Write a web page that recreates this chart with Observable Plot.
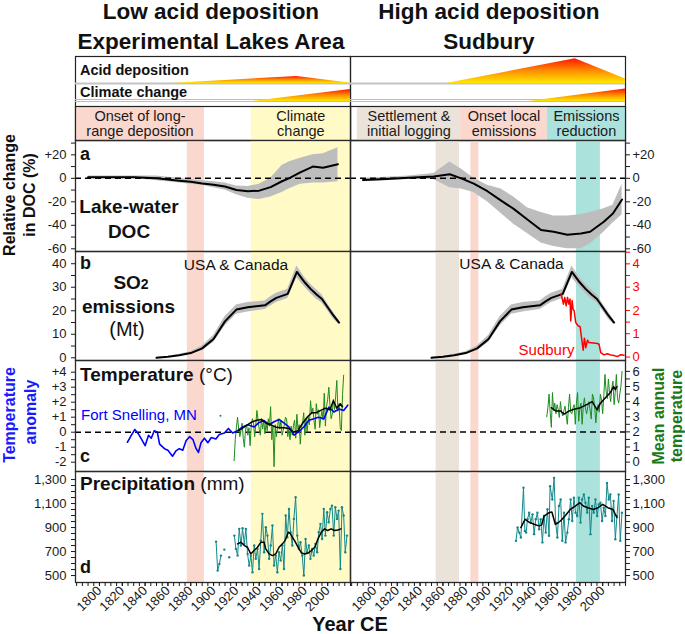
<!DOCTYPE html>
<html>
<head>
<meta charset="utf-8">
<script src="https://cdn.jsdelivr.net/npm/d3@7"></script>
<script src="https://cdn.jsdelivr.net/npm/@observablehq/plot@0.6"></script>
<style>
html,body{margin:0;padding:0;background:#fff;}
#root{position:relative;width:685px;height:634px;overflow:hidden;background:#fff;}
</style>
</head>
<body>
<div id="root"></div>
<script>
// ---------------- DATA ----------------
const xDomain = [1779, 2020];
const xTicks = [1800, 1820, 1840, 1860, 1880, 1900, 1920, 1940, 1960, 1980, 2000];
const xMinorTicks = d3.range(1780, 2021, 5);

// header schematic wedges (relative intensity)
const acidYearELA = [1863, 1973, 2019];
const acidLevelELA = [0, 0.26, 0.02];
const acidYearSud = [1863, 1976, 2020];
const acidLevelSud = [0, 0.92, 0.17];
const climYearELA = [1934, 2020];
const climLevelELA = [0, 0.67];
const climYearSud = [1935, 2020];
const climLevelSud = [0, 0.69];

// period labels in header
const phaseLabelELA = ["Onset of long-\nrange deposition", "Climate\nchange"];
const phaseStartELA = [1779, 1933];
const phaseEndELA = [1892, 2020];
const phaseKindELA = ["onset", "climate"];
const phaseLabelSud = ["Settlement &\ninitial logging", "Onset local\nemissions", "Emissions\nreduction"];
const phaseStartSud = [1785, 1875.5, 1951.5];
const phaseEndSud = [1875.5, 1951.5, 2020];
const phaseKindSud = ["settle", "onset", "reduce"];

// shaded periods in panels
const bandStartELA = [1877, 1933];
const bandEndELA = [1892, 2020];
const bandKindELA = ["onset", "climate"];
const bandStartSud = [1854, 1884.5, 1977];
const bandEndSud = [1874.5, 1891.5, 1998];
const bandKindSud = ["settle", "onset", "reduce"];

// a: relative change in DOC (%)
const docELAYear = [1790,1800,1810,1820,1830,1840,1850,1860,1870,1880,1890,1900,1910,1920,1930,1940,1950,1960,1966,1976,1987,1996,2009];
const docELAMean = [1,1,1,1,1,0.5,0,-1,-2,-3,-4.5,-5.5,-7,-10,-11,-10.5,-7.5,-2.5,0,5,10,9,12];
const docELAHi   = [2,2,2,2,2,2,2,1,0,-1,-2,-3,-4,-6.5,-7,-5,0,11,14,17,20,21,26];
const docELALo   = [0,0,0,0,0,-1,-2,-3,-4,-5,-6,-8,-10,-14,-17,-18,-16,-12,-9,-5,-4,-4,-3];

const docSudYear = [1790,1810,1830,1852,1866,1876,1887,1899,1911,1922,1934,1946,1957,1969,1981,1989,2001,2009,2017];
const docSudMean = [-1.5,-0.5,0.5,1.5,3.5,0,-4.5,-11,-19,-26,-35,-44,-45.5,-48,-47,-45.5,-37,-30,-18];
const docSudHi   = [0,1,2,4,14,8,0,-6,-9,-16,-25,-29,-32,-32,-31,-29,-26,-23,-5];
const docSudLo   = [-3,-2,-1,-1,-8,-9,-12,-20,-30,-39,-47,-55,-58,-60,-60,-56,-46,-38,-31];

// b: SO2 emissions USA & Canada (Mt)
const so2Year = [1850,1860,1870,1880,1890,1900,1910,1920,1930,1945,1950,1955,1965,1973,1980,1985,1990,1995,2000,2005,2010];
const so2Mean = [0,0.4,1.1,2,4,8,15.5,20.5,21.5,22.3,24,25.5,27.2,36.5,32,29.3,27,25,21.5,18,15];
const so2Lo   = [0,0.2,0.8,1.5,3,6.5,13.5,18.5,19.5,20.5,22,23.5,25.2,34,30,27.3,25,23.3,20,16.5,14];
const so2Hi   = [0.2,0.6,1.5,2.6,5,9.5,17.5,22.5,23.5,24.2,26,27.5,29.2,39,34,31.3,29,26.8,23,19.5,16];
// Sudbury SO2 (Mt)
const sudSO2Year = [1963.6,1965.6,1966.8,1968,1969.2,1970.3,1971.4,1972,1973.2,1974.1,1975,1976.4,1978.5,1980.2,1981.4,1982.9,1984,1985.2,1986.7,1988.1,1995.4,1996.8,1998.3,2001.2,2004.1,2007,2010,2012.9,2015.8,2018.7];
const sudSO2 = [2.7,2.27,2.56,2.2,2.56,2.27,2.49,1.55,2.42,2.06,1.99,1.48,1.34,1.3,0.86,0.29,0.81,0.4,0.72,0.62,0.58,0.55,0.19,0.09,0.14,0.09,0.06,0.02,0.1,0.08];

// c: temperature
const fsYear = [1824.5,1828,1831,1834,1836.7,1840,1843,1845.4,1848,1850.7,1852.7,1857,1860,1864,1867,1870,1873,1876,1879,1882,1884.7,1886.7,1889,1892,1895,1898,1902,1905,1909.5,1913,1916.7,1921,1925.5,1930,1935.6,1940,1944,1948.7,1953,1957.4,1961.8,1966,1970.5,1975,1979,1983.6,1988,1992,1996.7,2001,2005.4,2010,2014,2017.6];
const fsAnom = [-0.67,-0.2,0.18,-0.1,-0.45,-0.9,-0.2,-0.4,0.1,0,-0.8,-1.1,-1.2,-1.6,-1.25,-1.1,-1.2,-0.55,-0.3,-0.5,-1.1,-1.35,-0.7,-0.4,-0.7,-0.35,-0.45,-0.15,-0.05,0.25,-0.05,0.1,0.35,0.5,0.35,0.65,0.78,0.5,0.7,0.85,0.6,0.35,-0.2,0.05,0.35,0.8,0.9,1.0,0.9,1.67,1.35,1.55,1.45,1.8];

const elaTempYear = [1918,1919,1920,1921,1922,1923,1924,1925,1926,1927,1928,1929,1930,1931,1932,1933,1934,1935,1936,1937,1938,1939,1940,1941,1942,1943,1944,1945,1946,1947,1948,1949,1950,1951,1952,1953,1954,1955,1956,1957,1958,1959,1960,1961,1962,1963,1964,1965,1966,1967,1968,1969,1970,1971,1972,1973,1974,1975,1976,1977,1978,1979,1980,1981,1982,1983,1984,1985,1986,1987,1988,1989,1990,1991,1992,1993,1994,1995,1996,1997,1998,1999,2000,2001,2002,2003,2004,2005,2006,2007,2008,2009,2010,2011,2012,2013,2014];
const elaTemp = [-1.9,-0.5,0.3,1.0,0.2,-0.3,0.1,0.6,-0.4,-1.0,0.2,0.5,-0.2,0.3,-0.9,0.4,0.9,0.6,-0.3,0.5,1.45,0.8,0.2,-0.2,0.9,0.2,0.8,-0.1,0.6,0.1,0.9,0.4,1.7,-0.5,0.4,-2.3,0.5,-0.3,0.3,0.9,0.2,0.8,-0.2,0.1,0.5,1.0,0.9,-0.3,0.2,-0.5,0.4,-0.2,0.45,0.8,-0.4,1.2,0.2,0.5,-0.8,0.3,0.6,1.3,-0.2,0.9,0,1.0,0.5,2.1,1.2,1.6,0.8,0.2,1.9,1.2,1.5,0.3,1.0,1.4,0.8,2.6,0.4,1.7,2.2,3.0,1.8,0.9,1.2,2.2,1.5,2.4,3.45,1.4,1.9,0.3,0.1,2.5,3.8];
const elaTempDotYear = [1906];
const elaTempDot = [1.1];
const elaTempSmYear = [1922,1926,1930,1934,1938,1942,1946,1950,1954,1958,1962,1966,1970,1974,1978,1982,1986,1990,1994,1998,2002,2005,2008,2011,2013];
const elaTempSm = [0.1,0.3,0.5,0.7,0.8,0.85,0.6,0.5,0.35,0.3,0.3,0.25,0,0.1,0.6,1.0,1.3,1.3,1.45,1.6,1.5,2.1,1.6,1.9,1.7];

const sudTempYear = [1951,1952,1953,1954,1955,1956,1957,1958,1959,1960,1961,1962,1963,1964,1965,1966,1967,1968,1969,1970,1971,1972,1973,1974,1975,1976,1977,1978,1979,1980,1981,1982,1983,1984,1985,1986,1987,1988,1989,1990,1991,1992,1993,1994,1995,1996,1997,1998,1999,2000,2001,2002,2003,2004,2005,2006,2007,2008,2009,2010,2011,2012,2013,2014,2015,2016,2017];
const sudTemp = [3.0,3.6,4.5,3.3,2.3,4.6,3.4,3.9,3.2,3.8,3.5,2.95,4.0,3.3,3.05,3.4,3.7,3.1,2.5,3.6,4.5,3.3,3.2,3.6,3.8,2.5,3.9,4.6,2.7,3.6,3.9,2.5,3.7,4.25,3.5,3.2,3.7,4.0,3.4,2.85,4.5,4.25,3.6,2.6,3.5,3.8,3.3,4.5,4.1,3.2,4.4,5.8,4.7,4.2,5.5,4.6,4.0,4.9,5.35,3.8,4.6,5.8,4.2,3.9,4.5,5.0,6.0];
const sudTempSmYear = [1955,1958.8,1963.2,1966.1,1970.4,1974.8,1980.6,1986.4,1990.8,1995.1,1998,2003.8,2006.7,2009.6,2011.1,2012.5];
const sudTempSm = [3.6,3.38,3.38,3.17,3.38,3.49,3.6,3.82,4.0,3.45,3.9,4.37,4.59,5.0,4.8,5.0];

// d: precipitation (mm)
const elaPrecipYear = [1902.2,1903.6,1905.1,1906.5,1908,1909.4,1911,1913.7,1916,1918.2,1919.6,1921.1,1922.5,1924,1925.4,1926.9,1928.3,1929.8,1931.2,1932.7,1934.1,1935.6,1937,1938.5,1939.9,1941.4,1942.8,1944.3,1945.8,1947.2,1948.7,1950.1,1951.6,1953,1954.5,1955.9,1957.4,1958.8,1960.3,1961.7,1963.2,1964.6,1966.1,1967.5,1969,1970.4,1971.9,1973.3,1974.8,1976.2,1977.7,1979.1,1980.6,1982,1983.5,1984.9,1986.4,1987.8,1989.3,1990.8,1992.2,1993.7,1995.1,1996.6,1998,1999.5,2000.9,2002.4,2003.8,2005.3,2006.7,2008.2,2009.6,2011.1,2012.5,2014,2015.4,2016.9];
const elaPrecip = [783,541,597,666,NaN,716,NaN,652,NaN,833,722,666,889,750,894,764,889,680,583,666,527,750,639,722,555,791,1014,694,903,833,639,750,917,583,666,527,694,625,750,555,1000,819,1055,861,750,972,1153,833,722,778,666,500,805,694,750,639,722,666,764,694,861,930,805,1055,833,1028,944,1055,1083,833,1069,972,1041,555,1069,1000,694,833];
const elaPrecipSmYear = [1921,1924,1927,1929.7,1932.6,1935.5,1938.5,1941.4,1944.3,1945.7,1948.7,1951.6,1954.5,1957.4,1960.3,1962.6,1965.5,1967.5,1969,1971,1974,1977,1980,1983,1985.7,1988.7,1991.5,1994.4,1997.3,2000,2003,2006,2009,2011.6];
const elaPrecipSm = [764,777,750,736,680,708,736,777,777,722,680,666,680,736,764,791,861,847,819,791,736,688,680,688,708,736,805,861,889,875,889,875,880,889];

const sudPrecipYear = [1924,1925.4,1926.9,1928.3,1930.6,1931.8,1932.9,1934.1,1935.6,1937,1938.5,1939.9,1941.4,1942.8,1944.3,1945.7,1947.2,1948.6,1950.1,1951.6,1953,1953.9,1955.9,1957.4,1958.8,1960.3,1961.7,1963.2,1964.6,1966.1,1967.5,1969,1970.4,1971.9,1973.3,1974.8,1976.2,1977.7,1979.1,1980.6,1982,1983.5,1984.9,1986.4,1987.8,1989.3,1990.8,1992.2,1993.7,1995.1,1996.6,1998,1999.5,2000.9,2002.4,2003.8,2005.3,2006.7,2008.2,2009.6,2011.1,2012.5,2014,2015.4,2016.9];
const sudPrecip = [789,900,858,817,1231,872,858,969,1024,941,1010,845,969,1024,886,969,776,996,858,1052,831,1245,1134,1314,941,817,1079,1134,789,1024,776,858,969,1134,955,1148,1024,996,1148,941,1134,1176,1107,1024,1148,845,1079,1024,1134,996,1093,1107,955,1065,996,1272,1134,1176,955,1121,803,996,1176,789,1024];
const sudPrecipSmYear = [1928.3,1932,1936,1940,1944,1946.5,1948.6,1953,1955.5,1958.5,1961,1963,1967,1971.6,1976,1980,1983,1987,1991.7,1996,2000,2004.6,2009,2012.5];
const sudPrecipSm = [900,969,941,927,914,920,996,1024,1030,927,940,955,996,1051,1079,1107,1079,1065,1051,1065,1093,1065,1050,983];

// ---------------- STYLE ----------------
const FONT = '"Liberation Sans", Arial, Helvetica, sans-serif';
const COL = {onset: "#fbd8ce", climate: "#fffac6", settle: "#ebe3da", reduce: "#abe2dc"};
const BAND_GREY = "#bdbdbd";
const STYLE = {background: "transparent", overflow: "visible", fontFamily: FONT, fontSize: "13px", color: "#1a1a1a"};

const root = document.getElementById("root");

// gradient for header wedges
const gsvg = d3.select(root).append("svg").attr("width", 0).attr("height", 0).style("position", "absolute");
const grad = gsvg.append("defs").append("linearGradient").attr("id", "heat")
  .attr("x1", 0).attr("y1", 0).attr("x2", 0).attr("y2", 1);
grad.append("stop").attr("offset", "0%").attr("stop-color", "#ff1400");
grad.append("stop").attr("offset", "50%").attr("stop-color", "#ff8c00");
grad.append("stop").attr("offset", "100%").attr("stop-color", "#ffe800");

// ---------------- helpers ----------------
const zip = (keys, ...arrs) => arrs[0].map((_, i) => Object.fromEntries(keys.map((k, j) => [k, arrs[j][i]])));
const signed = d => d > 0 ? "+" + d : String(d);

function place(opts, left, top) {
  const svg = Plot.plot({style: STYLE, ...opts});
  svg.style.position = "absolute";
  svg.style.left = left + "px";
  svg.style.top = top + "px";
  svg.style.overflow = "visible";
  root.appendChild(svg);
  return svg;
}
const GEOM = {
  L: {left: 0, width: 350, marginLeft: 75, marginRight: 0},
  R: {left: 350, width: 335, marginLeft: 0, marginRight: 60}
};
function panel(side, top, height, y, marks, bottom = 0, xAxis = false) {
  const g = GEOM[side];
  return place({
    width: g.width, height: height + bottom,
    marginLeft: g.marginLeft, marginRight: g.marginRight, marginTop: 0, marginBottom: bottom,
    x: xAxis ? {domain: xDomain} : {domain: xDomain, axis: null},
    y, marks
  }, g.left, top);
}
function yAxes(anchor, major, minor, fmt, color) {
  const base = {anchor, tickSize: 4, label: null};
  if (color) base.color = color;
  return [
    Plot.axisY({...base, ticks: major, tickFormat: fmt, tickPadding: anchor === "left" ? 5 : 3}),
    Plot.axisY({...base, ticks: minor, tickFormat: () => ""})
  ];
}
const xAxes = () => [
  Plot.axisX({anchor: "bottom", ticks: xMinorTicks, tickSize: 4, tickFormat: () => "", label: null}),
  Plot.axisX({anchor: "bottom", ticks: xTicks, tickSize: 4, tickRotate: -45, tickPadding: 2, tickFormat: d => String(d), label: null})
];

const bandsELA = zip(["x1", "x2", "kind"], bandStartELA, bandEndELA, bandKindELA);
const bandsSud = zip(["x1", "x2", "kind"], bandStartSud, bandEndSud, bandKindSud);
const bandMarks = bands => bands.map(b => Plot.rect([b], {x1: "x1", x2: "x2", fill: COL[b.kind]}));
const frame = () => Plot.frame({stroke: "#2a2a2a", strokeWidth: 1.3});

// ---------------- HEADER ----------------
const rowX = {domain: xDomain, axis: null};
for (const side of ["L", "R"]) {
  const g = GEOM[side];
  place({width: g.width, height: 84, marginLeft: g.marginLeft, marginRight: g.marginRight, marginTop: 0, marginBottom: 0,
    x: rowX, marks: [Plot.frame({stroke: "#222", strokeWidth: 1.2})]}, g.left, 56);
}
const acidELA = zip(["year", "level"], acidYearELA, acidLevelELA);
const acidSud = zip(["year", "level"], acidYearSud, acidLevelSud);
const climELA = zip(["year", "level"], climYearELA, climLevelELA);
const climSud = zip(["year", "level"], climYearSud, climLevelSud);
[["L", acidELA, climELA], ["R", acidSud, climSud]].forEach(([side, acid, clim]) => {
  const g = GEOM[side];
  place({width: g.width, height: 27, marginLeft: g.marginLeft, marginRight: g.marginRight, marginTop: 0, marginBottom: 0,
    x: rowX, y: {domain: [0, 1], axis: null},
    marks: [
      Plot.ruleY([0], {stroke: "#c4c4c4", strokeWidth: 2}),
      Plot.areaY(acid, {x: "year", y: "level", fill: "url(#heat)"})
    ]}, g.left, 56);
  place({width: g.width, height: 18, marginLeft: g.marginLeft, marginRight: g.marginRight, marginTop: 0, marginBottom: 0,
    x: rowX, y: {domain: [0, 1], axis: null},
    marks: [
      Plot.ruleY([0], {stroke: "#bdbdbd", strokeWidth: 1.2}),
      Plot.ruleY([0], {stroke: "#bdbdbd", strokeWidth: 1.2, dy: -2}),
      Plot.areaY(clim, {x: "year", y: "level", fill: "url(#heat)"})
    ]}, g.left, 83);
});
const phasesELA = zip(["label", "x1", "x2", "kind"], phaseLabelELA, phaseStartELA, phaseEndELA, phaseKindELA);
const phasesSud = zip(["label", "x1", "x2", "kind"], phaseLabelSud, phaseStartSud, phaseEndSud, phaseKindSud);
[["L", phasesELA], ["R", phasesSud]].forEach(([side, phases]) => {
  const g = GEOM[side];
  place({width: g.width, height: 34, marginLeft: g.marginLeft, marginRight: g.marginRight, marginTop: 0, marginBottom: 0,
    x: rowX, y: {domain: [0, 1], axis: null},
    marks: [
      ...phases.map(p => Plot.rect([p], {x1: "x1", x2: "x2", fill: COL[p.kind]})),
      Plot.text(phases, {x: d => (d.x1 + d.x2) / 2, text: "label", frameAnchor: "middle", fontSize: 14.5, lineHeight: 1.06, fill: "#1a1a1a"}),
      Plot.frame({stroke: "#222", strokeWidth: 1.2})
    ]}, g.left, 106);
});

// ---------------- PANEL a ----------------
const docELA = zip(["year", "mean", "lo", "hi"], docELAYear, docELAMean, docELALo, docELAHi);
const docSud = zip(["year", "mean", "lo", "hi"], docSudYear, docSudMean, docSudLo, docSudHi);
const yA = {domain: [-62.3, 32.2]};
const docTicks = [-60, -40, -20, 0, 20], docMinor = [-50, -30, -10, 10, 30];
panel("L", 140, 111, yA, [
  ...bandMarks(bandsELA),
  Plot.area(docELA, {x1: "year", y1: "lo", y2: "hi", fill: BAND_GREY}),
  Plot.ruleY([0], {stroke: "#000", strokeWidth: 1.5, strokeDasharray: "6,4"}),
  Plot.line(docELA, {x: "year", y: "mean", stroke: "#000", strokeWidth: 2}),
  frame(),
  ...yAxes("left", docTicks, docMinor, signed)
]);
panel("R", 140, 111, yA, [
  ...bandMarks(bandsSud),
  Plot.area(docSud, {x1: "year", y1: "lo", y2: "hi", fill: BAND_GREY}),
  Plot.ruleY([0], {stroke: "#000", strokeWidth: 1.5, strokeDasharray: "6,4"}),
  Plot.line(docSud, {x: "year", y: "mean", stroke: "#000", strokeWidth: 2}),
  frame(),
  ...yAxes("right", docTicks, docMinor, signed)
]);

// ---------------- PANEL b ----------------
const so2 = zip(["year", "mean", "lo", "hi"], so2Year, so2Mean, so2Lo, so2Hi);
const sudSO2Data = zip(["year", "value"], sudSO2Year, sudSO2);
const yB = {domain: [-1.15, 45.2]};
panel("L", 251, 109, yB, [
  ...bandMarks(bandsELA),
  Plot.area(so2, {x1: "year", y1: "lo", y2: "hi", fill: BAND_GREY}),
  Plot.line(so2, {x: "year", y: "mean", stroke: "#000", strokeWidth: 2}),
  frame(),
  ...yAxes("left", [0, 10, 20, 30, 40], [5, 15, 25, 35], d => String(d))
]);
panel("R", 251, 109, {...yB, axis: null}, [
  ...bandMarks(bandsSud),
  Plot.area(so2, {x1: "year", y1: "lo", y2: "hi", fill: BAND_GREY}),
  Plot.line(so2, {x: "year", y: "mean", stroke: "#000", strokeWidth: 2}),
  frame()
]);
panel("R", 251, 109, {domain: [-0.15, 4.53]}, [
  Plot.line(sudSO2Data, {x: "year", y: "value", stroke: "#ff0000", strokeWidth: 1.5}),
  ...yAxes("right", [0, 1, 2, 3, 4], [0.5, 1.5, 2.5, 3.5, 4.5], d => String(d), "#ff0000")
]);

// ---------------- PANEL c ----------------
const fs = zip(["year", "value"], fsYear, fsAnom);
const elaT = zip(["year", "value"], elaTempYear, elaTemp);
const elaTDot = zip(["year", "value"], elaTempDotYear, elaTempDot);
const elaTSm = zip(["year", "value"], elaTempSmYear, elaTempSm);
const sudT = zip(["year", "value"], sudTempYear, sudTemp);
const sudTSm = zip(["year", "value"], sudTempSmYear, sudTempSm);
const GREEN = "#1f8c1f";
panel("L", 360, 111, {domain: [-2.62, 4.78]}, [
  ...bandMarks(bandsELA),
  Plot.ruleY([0], {stroke: "#000", strokeWidth: 1.5, strokeDasharray: "6,4"}),
  Plot.line(elaT, {x: "year", y: "value", stroke: GREEN, strokeWidth: 1}),
  Plot.dot(elaTDot, {x: "year", y: "value", r: 1, fill: GREEN}),
  Plot.line(fs, {x: "year", y: "value", stroke: "#0000ff", strokeWidth: 1.6}),
  Plot.line(elaTSm, {x: "year", y: "value", stroke: "#000", strokeWidth: 1.5}),
  frame(),
  ...yAxes("left", [-2, -1, 0, 1, 2, 3, 4], [-1.5, -0.5, 0.5, 1.5, 2.5, 3.5], signed)
]);
panel("R", 360, 111, {domain: [-0.62, 6.72]}, [
  ...bandMarks(bandsSud),
  Plot.ruleY([2], {stroke: "#000", strokeWidth: 1.5, strokeDasharray: "6,4"}),
  Plot.line(sudT, {x: "year", y: "value", stroke: GREEN, strokeWidth: 1}),
  Plot.line(sudTSm, {x: "year", y: "value", stroke: "#000", strokeWidth: 1.5}),
  frame(),
  ...yAxes("right", [0, 1, 2, 3, 4, 5, 6], [0.5, 1.5, 2.5, 3.5, 4.5, 5.5], d => String(d))
]);

// ---------------- PANEL d ----------------
const elaP = zip(["year", "value"], elaPrecipYear, elaPrecip);
const elaPSm = zip(["year", "value"], elaPrecipSmYear, elaPrecipSm);
const sudP = zip(["year", "value"], sudPrecipYear, sudPrecip);
const sudPSm = zip(["year", "value"], sudPrecipSmYear, sudPrecipSm);
const TEAL = "#13888a";
const yD = {domain: [442, 1367]};
const pTicks = [500, 700, 900, 1100, 1300];
const pMinor = [550, 600, 650, 750, 800, 850, 950, 1000, 1050, 1150, 1200, 1250];
const fmtC = d3.format(",");
panel("L", 471, 111, yD, [
  ...bandMarks(bandsELA),
  Plot.line(elaP, {x: "year", y: "value", stroke: TEAL, strokeWidth: 1}),
  Plot.dot(elaP, {x: "year", y: "value", r: 1.2, fill: TEAL}),
  Plot.line(elaPSm, {x: "year", y: "value", stroke: "#000", strokeWidth: 1.5}),
  frame(),
  ...yAxes("left", pTicks, pMinor, fmtC),
  ...xAxes()
], 52, true);
panel("R", 471, 111, yD, [
  ...bandMarks(bandsSud),
  Plot.line(sudP, {x: "year", y: "value", stroke: TEAL, strokeWidth: 1}),
  Plot.dot(sudP, {x: "year", y: "value", r: 1.2, fill: TEAL}),
  Plot.line(sudPSm, {x: "year", y: "value", stroke: "#000", strokeWidth: 1.5}),
  frame(),
  ...yAxes("right", pTicks, pMinor, fmtC),
  ...xAxes()
], 52, true);

// ---------------- TEXT OVERLAY ----------------
const ov = d3.select(root).append("svg").attr("width", 685).attr("height", 634)
  .style("position", "absolute").style("left", "0px").style("top", "0px").style("overflow", "visible")
  .attr("font-family", FONT);
function txt(x, y, parts, {anchor = "start", size = 14, weight = "normal", fill = "#111", rotate = 0} = {}) {
  const t = ov.append("text").attr("x", x).attr("y", y).attr("text-anchor", anchor)
    .attr("font-size", size).attr("font-weight", weight).attr("fill", fill);
  if (rotate) t.attr("transform", `rotate(${rotate},${x},${y})`);
  for (const p of [].concat(parts)) {
    if (typeof p === "string") t.append("tspan").text(p);
    else {
      const s = t.append("tspan").text(p.t);
      if (p.w) s.attr("font-weight", p.w);
      if (p.s) s.attr("font-size", p.s);
      if (p.dy) s.attr("dy", p.dy);
    }
  }
}
// titles
txt(211, 19, "Low acid deposition", {anchor: "middle", size: 22.5, weight: "bold"});
txt(211, 49, "Experimental Lakes Area", {anchor: "middle", size: 22.5, weight: "bold"});
txt(489, 19, "High acid deposition", {anchor: "middle", size: 22.5, weight: "bold"});
txt(489, 49, "Sudbury", {anchor: "middle", size: 22.5, weight: "bold"});
// header rows
txt(80, 75, "Acid deposition", {size: 14.5, weight: "bold"});
txt(80, 97, "Climate change", {size: 14.5, weight: "bold"});
// panel letters
txt(80, 160, "a", {size: 18, weight: "bold"});
txt(80, 269, "b", {size: 18, weight: "bold"});
txt(80, 462, "c", {size: 18, weight: "bold"});
txt(80, 573, "d", {size: 18, weight: "bold"});
// panel titles
txt(129, 213, "Lake-water", {anchor: "middle", size: 19, weight: "bold"});
txt(129, 238, "DOC", {anchor: "middle", size: 19, weight: "bold"});
txt(131, 289, ["SO", {t: "2", s: 14}], {anchor: "middle", size: 19, weight: "bold"});
txt(128.5, 313, "emissions", {anchor: "middle", size: 19, weight: "bold"});
txt(127, 336, "(Mt)", {anchor: "middle", size: 20});
txt(236, 269.5, "USA & Canada", {anchor: "middle", size: 15.5});
txt(511.5, 269, "USA & Canada", {anchor: "middle", size: 15.5});
txt(546.5, 355, "Sudbury", {anchor: "middle", size: 15, fill: "#ff0000"});
txt(80, 381, [{t: "Temperature", w: "bold"}, {t: " (°C)", w: "normal"}], {size: 19});
txt(81, 420, "Fort Snelling, MN", {size: 15, fill: "#0000ff"});
txt(80, 490, [{t: "Precipitation", w: "bold"}, {t: " (mm)", w: "normal"}], {size: 19});
txt(350, 631, "Year CE", {anchor: "middle", size: 20, weight: "bold"});
// axis titles
txt(15, 195, "Relative change", {anchor: "middle", size: 16, weight: "bold", rotate: -90});
txt(35, 195, "in DOC (%)", {anchor: "middle", size: 16, weight: "bold", rotate: -90});
txt(15, 415, "Temperature", {anchor: "middle", size: 16, weight: "bold", rotate: -90, fill: "#1a1aff"});
txt(36, 412, "anomaly", {anchor: "middle", size: 16, weight: "bold", rotate: -90, fill: "#1a1aff"});
txt(664, 416, "Mean annual", {anchor: "middle", size: 16, weight: "bold", rotate: -90, fill: "#1a7a1a"});
txt(682, 416, "temperature", {anchor: "middle", size: 16, weight: "bold", rotate: -90, fill: "#1a7a1a"});
</script>
</body>
</html>
